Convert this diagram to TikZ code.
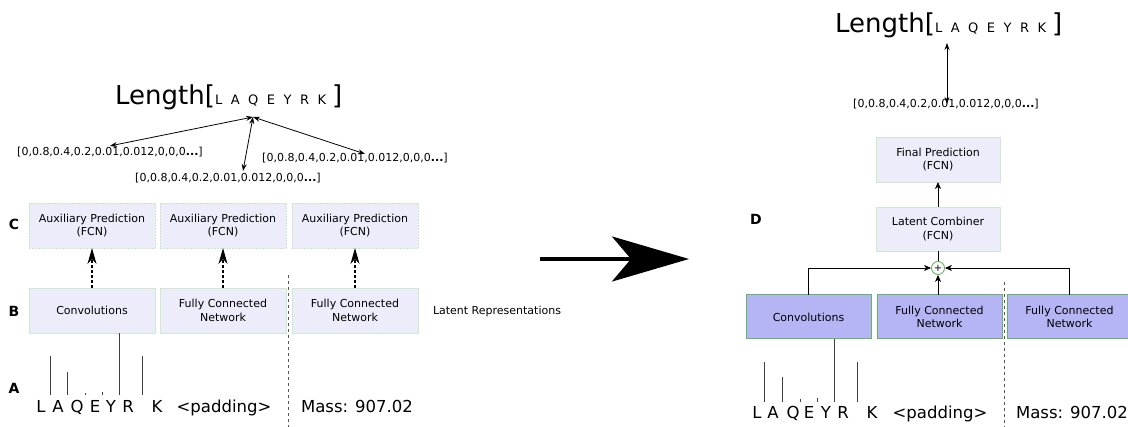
\documentclass[tikz,border=0pt]{standalone}
\usepackage{fontspec}
\setmainfont{DejaVu Sans}
\usetikzlibrary{arrows.meta}

\definecolor{boxfill}{HTML}{ECECFA}
\definecolor{auxgreen}{HTML}{C6E6C6}
\definecolor{latgreen}{HTML}{CDEACD}
\definecolor{combfill}{HTML}{B5B5F5}
\definecolor{combgreen}{HTML}{62B562}
\definecolor{sepgray}{HTML}{555555}

\tikzset{
  auxbox/.style={draw=auxgreen, dash pattern=on 2pt off 1pt, fill=boxfill, minimum width=126pt, minimum height=45pt,
    align=center, outer sep=0pt, font=\fontsize{11}{13.5}\selectfont},
  latbox/.style={auxbox, solid, draw=latgreen},
  combox/.style={auxbox, solid, draw=combgreen, fill=combfill, line width=1pt, minimum width=125pt, minimum height=44pt},
  panel/.style={font=\fontsize{14}{16}\selectfont\bfseries},
  vec/.style={font=\fontsize{11}{12}\selectfont, inner sep=1pt},
  aa/.style={anchor=base, inner sep=0pt, font=\fontsize{16.5}{18}\selectfont},
  dasharrow/.style={dash pattern=on 3pt off 2pt, line width=1.1pt, -{Stealth[length=16pt,width=9pt,inset=5pt]}},
  smallarrow/.style={line width=0.8pt, {Stealth[length=7pt,width=5pt]}-{Stealth[length=7pt,width=5pt]}},
  feed/.style={line width=0.8pt, -{Stealth[length=7pt,width=6pt,inset=2pt]}},
  sep/.style={draw=sepgray, dashed, line width=0.9pt},
  peak/.style={draw=black!75, line width=0.9pt}
}

\newcommand{\lenlabel}{{\fontsize{26}{28}\selectfont Length[}{\fontsize{13}{14}\selectfont
  L\hspace{8.5pt}A\hspace{8.5pt}Q\hspace{8.5pt}E\hspace{8.5pt}Y\hspace{8.5pt}R\hspace{8.5pt}K\hspace{6pt}}{\fontsize{26}{28}\selectfont ]}}
\newcommand{\vecvals}{[0,0.8,0.4,0.2,0.01,0.012,0,0,0\textbf{...}]}

\begin{document}
\begin{tikzpicture}[x=1pt,y=-1pt]
\useasboundingbox (0,0) rectangle (1128,427);

% left: auxiliary predictions
\node[anchor=base west, inner sep=0pt] (len1) at (115,105) {\lenlabel};
\coordinate (hub1) at (253,117);
\node[vec] (vecL) at (110,152) {\vecvals};
\node[vec] (vecM) at (228,178) {\vecvals};
\node[vec] (vecR) at (355,158) {\vecvals};
\draw[smallarrow] (hub1) -- (vecL.north);
\draw[smallarrow] (hub1) -- ([xshift=15pt,yshift=1pt]vecM.north);
\draw[smallarrow] (hub1) -- ([xshift=10pt,yshift=-2pt]vecR.north);

\node[panel] (labC) at (14,224) {C};
\node[panel] (labB) at (14,311) {B};
\node[panel] (labA) at (14,388) {A};

\node[auxbox] (aux1) at (92,225.5) {Auxiliary Prediction\\(FCN)};
\node[auxbox] (aux2) at (223,225.5) {Auxiliary Prediction\\(FCN)};
\node[auxbox] (aux3) at (355,225.5) {Auxiliary Prediction\\(FCN)};
\node[latbox] (lat1) at (92,310.5) {Convolutions};
\node[latbox] (lat2) at (223,310.5) {Fully Connected\\Network};
\node[latbox] (lat3) at (355,310.5) {Fully Connected\\Network};
\node[font=\fontsize{11}{12}\selectfont] (latrep) at (497,311) {Latent Representations};
\foreach \i in {1,2,3}
  \draw[dasharrow] (lat\i.north) -- (aux\i.south);

\draw[sep] (288,275) -- (288,427);

% left: spectrum and sequence
\foreach \x/\h in {50/356,67/372,85/393,102/392,142/356}
  \draw[peak] (\x,395) -- (\x,\h);
\draw[peak] (119,395) -- (lat1.south -| 119,0);
\foreach \c/\x [count=\i] in {L/41,A/58,Q/77,E/95,Y/111,R/128,K/157}
  \node[aa] (seqL\i) at (\x,413) {\c};
\node[aa] (padL) at (224,413) {<padding>};
\node[aa] (massL) at (357,413) {Mass: 907.02};

% transition arrow
\coordinate (go1) at (540,259);
\coordinate (go2) at (689,259);
\draw[line width=4pt, -{Stealth[length=77pt,width=45pt,inset=19pt]}] (go1) -- (go2);

% right: combined prediction
\node[anchor=base west, inner sep=0pt] (len2) at (835,33) {\lenlabel};
\coordinate (hub2) at (947,43);
\node[vec] (vec2) at (946,104) {\vecvals};
\draw[smallarrow] (hub2) -- ([yshift=-6pt]vec2.north -| hub2);

\node[panel] (labD) at (756,219) {D};
\node[latbox, minimum width=124pt] (final) at (938,159.5) {Final Prediction\\(FCN)};
\node[latbox, minimum width=124pt, minimum height=44pt] (comb) at (938,229) {Latent Combiner\\(FCN)};
\node[circle, draw=combgreen, line width=0.9pt, fill=white, minimum size=13pt, inner sep=0pt,
  font=\fontsize{10}{10}\selectfont] (plus) at (938,268) {+};
\draw[feed] (comb.north) -- (final.south);
\draw[line width=0.8pt] (plus.north) -- (comb.south);

\node[combox] (conv2) at (808.5,317) {Convolutions};
\node[combox] (fcn2a) at (939.5,317) {Fully Connected\\Network};
\node[combox] (fcn2b) at (1069.5,317) {Fully Connected\\Network};
\draw[feed] (conv2.north) |- (plus.west);
\draw[feed] (fcn2b.north) |- (plus.east);
\draw[feed] (fcn2a.north -| plus) -- (plus.south);

\draw[sep] (1004,282) -- (1004,427);

% right: spectrum and sequence
\foreach \x/\h in {764/362,782/377,800/399,817/398,857/362}
  \draw[peak] (\x,402) -- (\x,\h);
\draw[peak] (834,402) -- (conv2.south -| 834,0);
\foreach \c/\x [count=\i] in {L/757,A/773,Q/793,E/809,Y/826,R/843,K/872}
  \node[aa] (seqR\i) at (\x,419) {\c};
\node[aa] (padR) at (940,419) {<padding>};
\node[aa] (massR) at (1072,419) {Mass: 907.02};
\end{tikzpicture}
\end{document}
